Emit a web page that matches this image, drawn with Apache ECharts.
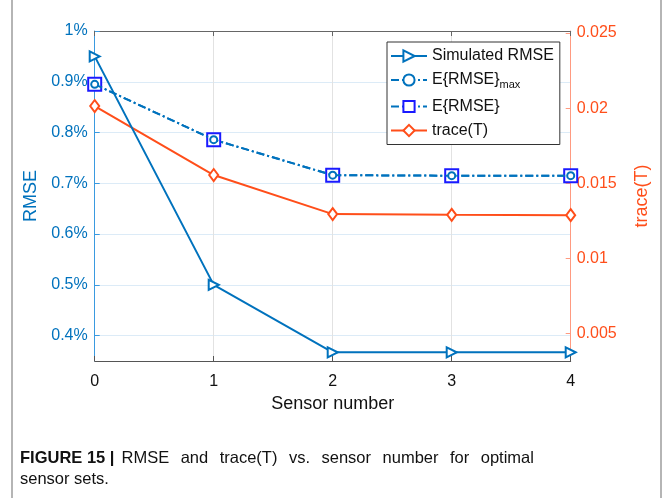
<!DOCTYPE html>
<html>
<head>
<meta charset="utf-8">
<script src="https://cdn.jsdelivr.net/npm/echarts@6/dist/echarts.min.js"></script>
<style>html,body{margin:0;padding:0;background:#fff}#c{width:664px;height:498px}</style>
</head>
<body>
<div id="c"></div>
<script>
var sensorNumbers = [0, 1, 2, 3, 4];
var simulatedRMSE = [0.950, 0.500, 0.367, 0.367, 0.367];
var expectedRMSEmax = [0.895, 0.786, 0.716, 0.715, 0.715];
var expectedRMSE = [0.895, 0.786, 0.716, 0.715, 0.715];
var traceT = [0.02014, 0.01555, 0.01295, 0.0129, 0.01288];
var leftTicks = [0.4, 0.5, 0.6, 0.7, 0.8, 0.9, 1.0];
var rightTicks = [0.005, 0.01, 0.015, 0.02, 0.025];

var BLUE = '#0072BD';
var ORANGE = '#FF4E1A';
var FONT = '"Liberation Sans", Arial, Helvetica, sans-serif';

function pairs(ys) { return sensorNumbers.map(function (x, i) { return [x, ys[i]]; }); }

// justified first caption line: words separated by widened spaces
var capBold = 'FIGURE 15 |';
var capWords = ['RMSE', 'and', 'trace(T)', 'vs.', 'sensor', 'number', 'for', 'optimal'];
var line1 = '{b|' + capBold + '}{g| }' +
  capWords.map(function (w) { return '{r|' + w + '}'; }).join('{w| }');
var captionText = line1 + '\n{r|sensor sets.}';

var chart = echarts.init(document.getElementById('c'), null, { renderer: 'canvas' });
chart.setOption({
  animation: false,
  backgroundColor: '#fff',
  textStyle: { fontFamily: FONT },
  grid: { left: 94.7, right: 93.3, top: 31, bottom: 137, containLabel: false },
  title: {
    left: 15, top: 443,
    text: captionText,
    textStyle: { fontFamily: FONT, fontSize: 16.5, fontWeight: 'normal', color: '#111', lineHeight: 21,
      rich: {
        b: { fontWeight: 'bold', fontSize: 16.5, fontFamily: FONT, color: '#111', lineHeight: 21 },
        r: { fontSize: 16.5, fontFamily: FONT, color: '#111', lineHeight: 21 },
        g: { fontSize: 16.5, fontFamily: FONT, width: 7, lineHeight: 21 },
        w: { fontSize: 16.5, fontFamily: FONT, width: 11.5, lineHeight: 21 }
      } }
  },
  legend: {
    orient: 'vertical', left: 387, top: 42,
    backgroundColor: '#fff', borderColor: '#333', borderWidth: 1,
    padding: [6, 6, 6, 3], itemGap: 8, itemWidth: 36, itemHeight: 14,
    textStyle: { fontFamily: FONT, fontSize: 16, color: '#111',
      rich: { s: { fontSize: 11, verticalAlign: 'bottom', padding: [10, 0, 0, 0], fontFamily: FONT, color: '#111' } } },
    formatter: function (n) { return n === 'E{RMSE}max' ? 'E{RMSE}{s|max}' : n; },
    data: ['Simulated RMSE', 'E{RMSE}max', 'E{RMSE}', 'trace(T)']
  },
  xAxis: [{
    type: 'value', min: 0, max: 4, interval: 1, position: 'bottom',
    name: 'Sensor number', nameLocation: 'middle', nameGap: 34,
    nameTextStyle: { fontSize: 18, color: '#111', fontFamily: FONT },
    axisLine: { show: true, onZero: false, lineStyle: { color: '#555', width: 1 } },
    axisTick: { show: true, inside: true, length: 5, lineStyle: { color: '#555' } },
    axisLabel: { fontSize: 16, color: '#111', margin: 13, fontFamily: FONT },
    splitLine: { show: true, lineStyle: { color: '#e2e2e2', width: 1 } }
  }, {
    type: 'value', min: 0, max: 4, interval: 1, position: 'top',
    axisLine: { show: true, onZero: false, lineStyle: { color: '#666', width: 1 } },
    axisTick: { show: true, inside: true, length: 5, lineStyle: { color: '#666' } },
    axisLabel: { show: false }, splitLine: { show: false }
  }],
  yAxis: [{
    type: 'value', min: 0.35, max: 1.0, position: 'left',
    name: 'RMSE', nameLocation: 'middle', nameGap: 54, nameRotate: 90,
    nameTextStyle: { fontSize: 18, color: BLUE, fontFamily: FONT },
    axisLine: { show: true, onZero: false, lineStyle: { color: '#3a9ae0', width: 1 } },
    axisTick: { show: true, inside: true, length: 5, customValues: leftTicks, lineStyle: { color: '#3a9ae0' } },
    axisLabel: { customValues: leftTicks, fontSize: 16, color: BLUE, margin: 7, fontFamily: FONT,
      formatter: function (v) { return (Math.round(v * 10) / 10) + '%'; } },
    splitLine: { show: true, lineStyle: { color: '#dcebf7', width: 1 } }
  }, {
    type: 'value', min: 0.00318, max: 0.02513, position: 'right',
    name: 'trace(T)', nameLocation: 'middle', nameGap: 62, nameRotate: 90,
    nameTextStyle: { fontSize: 18, color: ORANGE, fontFamily: FONT },
    axisLine: { show: true, onZero: false, lineStyle: { color: '#ff9a80', width: 1 } },
    axisTick: { show: true, inside: true, length: 5, customValues: rightTicks, lineStyle: { color: '#ff9a80' } },
    axisLabel: { customValues: rightTicks, fontSize: 16, color: ORANGE, margin: 6, fontFamily: FONT,
      formatter: function (v) { return String(parseFloat(v.toFixed(3))); } },
    splitLine: { show: false }
  }],
  series: [{
    name: 'Simulated RMSE', type: 'line', yAxisIndex: 0, data: pairs(simulatedRMSE),
    symbol: 'emptyTriangle', symbolRotate: -90, symbolSize: 10, showAllSymbol: true,
    lineStyle: { color: BLUE, width: 2 }, itemStyle: { color: BLUE, borderColor: BLUE, borderWidth: 1.6 }, z: 5
  }, {
    name: 'E{RMSE}max', type: 'line', yAxisIndex: 0, data: pairs(expectedRMSEmax),
    symbol: 'emptyCircle', symbolSize: 7,
    lineStyle: { color: BLUE, width: 2, type: [8, 3, 2, 3] }, itemStyle: { color: BLUE, borderColor: BLUE, borderWidth: 1.6 }, z: 4
  }, {
    name: 'E{RMSE}', type: 'line', yAxisIndex: 0, data: pairs(expectedRMSE),
    symbol: 'emptyRect', symbolSize: 13,
    lineStyle: { color: BLUE, width: 2, type: [8, 3, 2, 3] }, itemStyle: { color: '#1a1aff', borderColor: '#1a1aff', borderWidth: 1.6 }, z: 3
  }, {
    name: 'trace(T)', type: 'line', yAxisIndex: 1, data: pairs(traceT),
    symbol: 'emptyDiamond', symbolSize: [9, 12],
    lineStyle: { color: ORANGE, width: 2 }, itemStyle: { color: ORANGE, borderColor: ORANGE, borderWidth: 1.6 }, z: 4
  }],
  graphic: [
    { type: 'line', shape: { x1: 12, y1: 0, x2: 12, y2: 498 }, style: { stroke: '#b5b5b5', lineWidth: 2 } },
    { type: 'line', shape: { x1: 661, y1: 0, x2: 661, y2: 498 }, style: { stroke: '#b5b5b5', lineWidth: 2 } }
  ]
});
</script>
</body>
</html>
